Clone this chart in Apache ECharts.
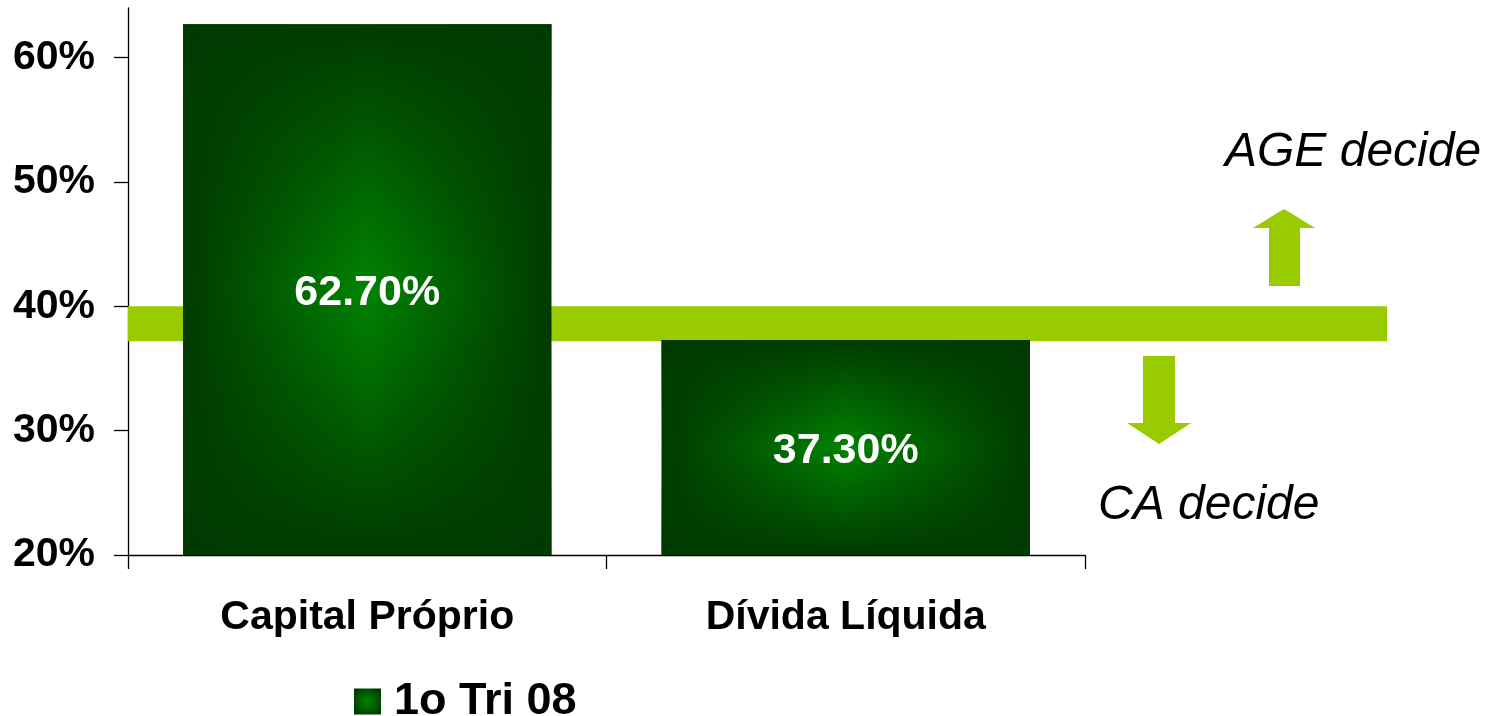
<!DOCTYPE html>
<html>
<head>
<meta charset="utf-8">
<script src="https://cdn.jsdelivr.net/npm/echarts@6/dist/echarts.min.js"></script>
<style>
  html, body { margin: 0; padding: 0; background: #ffffff; }
  #chart { width: 1499px; height: 716px; }
</style>
</head>
<body>
<div id="chart"></div>
<script>
// ---- data ----
const categories = ['Capital Próprio', 'Dívida Líquida'];
const seriesName = '1o Tri 08';
const values = [62.70, 37.30];
const yTicks = [20, 30, 40, 50, 60];
const bandLow = 37.2;
const bandHigh = 40;
const noteUp = 'AGE decide';
const noteDown = 'CA decide';

const FONT = '"Liberation Sans", Arial, Helvetica, sans-serif';
const DARK = '#003a00';

const chart = echarts.init(document.getElementById('chart'));

const horizGrad = new echarts.graphic.LinearGradient(0, 0, 1, 0, [
  { offset: 0, color: DARK },
  { offset: 0.5, color: '#008400' },
  { offset: 1, color: DARK }
]);
const vertGrad = new echarts.graphic.LinearGradient(0, 0, 0, 1, [
  { offset: 0, color: 'rgba(0,58,0,1)' },
  { offset: 0.5, color: 'rgba(0,58,0,0)' },
  { offset: 1, color: 'rgba(0,58,0,1)' }
]);
const legendGrad = new echarts.graphic.RadialGradient(0.5, 0.5, 0.6, [
  { offset: 0, color: '#008800' },
  { offset: 1, color: DARK }
]);

const option = {
  backgroundColor: '#ffffff',
  animation: false,
  grid: [
    { left: 128, right: 414, top: 8, bottom: 161, outerBoundsMode: 'none', containLabel: false },
    { left: 128, right: 112, top: 8, bottom: 161, outerBoundsMode: 'none', containLabel: false }
  ],
  xAxis: [
    {
      type: 'category',
      gridIndex: 0,
      data: categories,
      boundaryGap: true,
      axisLine: { lineStyle: { color: '#000', width: 1.3 } },
      axisTick: { show: true, length: 14, alignWithLabel: false, lineStyle: { color: '#000', width: 1.3 } },
      axisLabel: {
        margin: 42,
        color: '#000',
        fontFamily: FONT,
        fontWeight: 'bold',
        fontSize: 41
      }
    },
    { type: 'value', gridIndex: 1, min: 0, max: 1, show: false }
  ],
  yAxis: [
    {
      type: 'value',
      gridIndex: 0,
      min: yTicks[0],
      max: 64,
      interval: 10,
      splitLine: { show: false },
      axisLine: { show: true, lineStyle: { color: '#000', width: 1.3 } },
      axisTick: { show: true, length: 14, lineStyle: { color: '#000', width: 1.3 } },
      axisLabel: {
        margin: 33,
        color: '#000',
        fontFamily: FONT,
        fontWeight: 'bold',
        fontSize: 41,
        showMaxLabel: false,
        formatter: function (v) { return yTicks.indexOf(v) >= 0 ? v + '%' : ''; }
      }
    },
    { type: 'value', gridIndex: 1, min: yTicks[0], max: 64, show: false }
  ],
  legend: {
    left: 354,
    top: 679,
    padding: 0,
    itemWidth: 27,
    itemHeight: 26,
    icon: 'rect',
    data: [{ name: seriesName, itemStyle: { color: legendGrad } }],
    textStyle: {
      color: '#000',
      fontFamily: FONT,
      fontWeight: 'bold',
      fontSize: 45,
      lineHeight: 26,
      padding: [0, 0, 0, 8]
    },
    selectedMode: false
  },
  series: [
    {
      type: 'custom',
      name: 'band',
      xAxisIndex: 1,
      yAxisIndex: 1,
      z: 1,
      silent: true,
      data: [[0, 1, bandLow, bandHigh]],
      renderItem: function (params, api) {
        const p1 = api.coord([api.value(0), api.value(3)]);
        const p2 = api.coord([api.value(1), api.value(2)]);
        return {
          type: 'rect',
          shape: { x: p1[0], y: p1[1], width: p2[0] - p1[0], height: p2[1] - p1[1] },
          style: { fill: '#99cc00' }
        };
      }
    },
    {
      type: 'bar',
      name: seriesName,
      xAxisIndex: 0,
      yAxisIndex: 0,
      z: 2,
      barWidth: '77%',
      data: values,
      itemStyle: { color: horizGrad }
    },
    {
      type: 'bar',
      name: 'shade',
      xAxisIndex: 0,
      yAxisIndex: 0,
      z: 3,
      barWidth: '77%',
      barGap: '-100%',
      data: values,
      itemStyle: { color: vertGrad },
      label: {
        show: true,
        position: 'inside',
        offset: [0, 4],
        color: '#fff',
        fontFamily: FONT,
        fontWeight: 'bold',
        fontSize: 43,
        formatter: function (p) { return p.value.toFixed(2) + '%'; }
      }
    }
  ],
  graphic: [
    {
      type: 'polygon',
      shape: { points: [[1284, 209], [1315, 228], [1300, 228], [1300, 286], [1269, 286], [1269, 228], [1253, 228]] },
      style: { fill: '#99cc00' }
    },
    {
      type: 'polygon',
      shape: { points: [[1143, 356], [1175, 356], [1175, 423], [1191, 423], [1159, 444], [1127, 423], [1143, 423]] },
      style: { fill: '#99cc00' }
    },
    {
      type: 'text',
      x: 1225,
      y: 153,
      style: {
        text: noteUp,
        fill: '#000',
        font: 'italic 48px ' + FONT,
        verticalAlign: 'middle',
        align: 'left'
      }
    },
    {
      type: 'text',
      x: 1098,
      y: 506,
      style: {
        text: noteDown,
        fill: '#000',
        font: 'italic 48px ' + FONT,
        verticalAlign: 'middle',
        align: 'left'
      }
    }
  ]
};

chart.setOption(option);
</script>
</body>
</html>
